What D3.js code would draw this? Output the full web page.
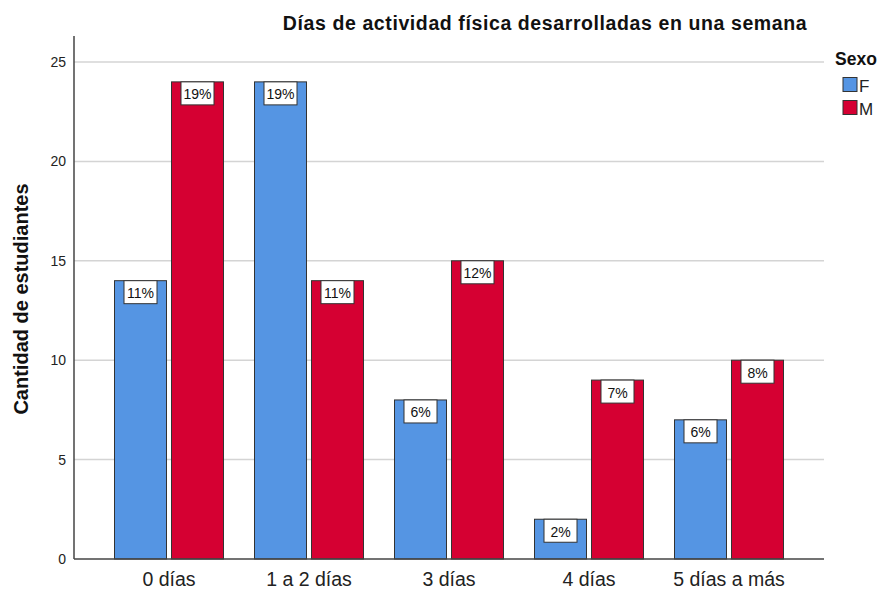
<!DOCTYPE html>
<html><head><meta charset="utf-8">
<script src="https://cdn.jsdelivr.net/npm/d3@7"></script>
<style>body{margin:0;background:#fff}svg{font-family:Arial,"Liberation Sans",sans-serif}</style>
</head><body><svg id="c" width="887" height="590"></svg>
<script>
const categories = ["0 días","1 a 2 días","3 días","4 días","5 días a más"];
const series = ["F","M"];
const valuesF = [14,24,8,2,7];
const valuesM = [24,14,15,9,10];
const pctF = ["11%","19%","6%","2%","6%"];
const pctM = ["19%","11%","12%","7%","8%"];
const yTicks = [0,5,10,15,20,25];
const colors = ["#5595e3","#d50032"];

const svg = d3.select("#c");
const L=74,R=824,T=36,B=559;
const x = d3.scaleBand().domain(categories).range([L+25,R-25]);
const xs = d3.scaleBand().domain(series).range([15.5,124.5]).paddingInner(0.0877);
const y = d3.scaleLinear().domain([0,25]).range([B,62]);

svg.append("g").selectAll("line").data(yTicks.filter(d=>d>0)).join("line")
 .attr("x1",L).attr("x2",R).attr("y1",d=>y(d)).attr("y2",d=>y(d))
 .attr("stroke","#d4d4d4").attr("stroke-width",1.5);

svg.append("g").selectAll("text").data(yTicks).join("text")
 .attr("x",66).attr("y",d=>y(d)+5).attr("text-anchor","end")
 .attr("font-size",14).attr("fill","#222").text(d=>d);

const data=[valuesF,valuesM];
const pcts=[pctF,pctM];
const g = svg.append("g");
series.forEach((s,si)=>{
  categories.forEach((c,ci)=>{
    const v=data[si][ci];
    const bx=x(c)+xs(s), bw=xs.bandwidth();
    g.append("rect").attr("x",bx).attr("y",y(v)).attr("width",bw).attr("height",B-y(v))
     .attr("fill",colors[si]).attr("stroke","#333").attr("stroke-width",1);
    const cx=bx+bw/2;
    g.append("rect").attr("x",cx-16.5).attr("y",y(v)).attr("width",33).attr("height",23)
     .attr("fill","#fff").attr("stroke","#333").attr("stroke-width",1);
    g.append("text").attr("x",cx).attr("y",y(v)+17.5).attr("text-anchor","middle")
     .attr("font-size",14).attr("fill","#111").text(pcts[si][ci]);
  });
});

svg.append("line").attr("x1",L).attr("x2",R).attr("y1",B).attr("y2",B).attr("stroke","#444").attr("stroke-width",1.5);
svg.append("line").attr("x1",L).attr("x2",L).attr("y1",T).attr("y2",B).attr("stroke","#444").attr("stroke-width",1.5);

svg.append("g").selectAll("text").data(categories).join("text")
 .attr("x",d=>x(d)+x.bandwidth()/2).attr("y",586).attr("text-anchor","middle")
 .attr("font-size",19.5).attr("fill","#222").text(d=>d);

svg.append("text").attr("x",545).attr("y",30).attr("text-anchor","middle")
 .attr("font-size",19.5).attr("font-weight","bold").attr("fill","#111")
 .attr("letter-spacing",0.6)
 .text("Días de actividad física desarrolladas en una semana");

svg.append("text").attr("transform","translate(28,299) rotate(-90)").attr("text-anchor","middle")
 .attr("font-size",20).attr("font-weight","bold").attr("fill","#111").text("Cantidad de estudiantes");

svg.append("text").attr("x",835).attr("y",65).attr("font-size",17.5).attr("font-weight","bold").attr("fill","#111").text("Sexo");
series.forEach((s,i)=>{
  svg.append("rect").attr("x",843).attr("y",77.5+i*23).attr("width",14).attr("height",14)
   .attr("fill",colors[i]).attr("stroke","#333");
  svg.append("text").attr("x",859).attr("y",92+i*23).attr("font-size",17).attr("fill","#222").text(s);
});
</script></body></html>
